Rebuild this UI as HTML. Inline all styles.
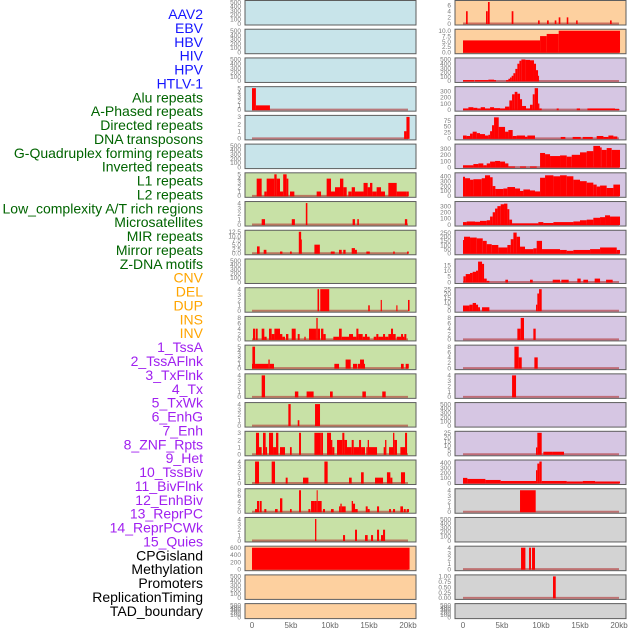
<!DOCTYPE html>
<html><head><meta charset="utf-8"><style>
body{margin:0;background:#fff;}
svg{display:block;font-family:"Liberation Sans",sans-serif;}
</style></head><body>
<svg id="chart" width="630" height="630" viewBox="0 0 630 630"></svg>
<script>
const labels=["AAV2","EBV","HBV","HIV","HPV","HTLV-1","Alu repeats","A-Phased repeats","Directed repeats","DNA transposons","G-Quadruplex forming repeats","Inverted repeats","L1 repeats","L2 repeats","Low_complexity A/T rich regions","Microsatellites","MIR repeats","Mirror repeats","Z-DNA motifs","CNV","DEL","DUP","INS","INV","1_TssA","2_TssAFlnk","3_TxFlnk","4_Tx","5_TxWk","6_EnhG","7_Enh","8_ZNF_Rpts","9_Het","10_TssBiv","11_BivFlnk","12_EnhBiv","13_ReprPC","14_ReprPCWk","15_Quies","CPGisland","Methylation","Promoters","ReplicationTiming","TAD_boundary"];
const labelColors=["#1515ff","#1515ff","#1515ff","#1515ff","#1515ff","#1515ff","#006400","#006400","#006400","#006400","#006400","#006400","#006400","#006400","#006400","#006400","#006400","#006400","#006400","#ffa500","#ffa500","#ffa500","#ffa500","#ffa500","#a020f0","#a020f0","#a020f0","#a020f0","#a020f0","#a020f0","#a020f0","#a020f0","#a020f0","#a020f0","#a020f0","#a020f0","#a020f0","#a020f0","#a020f0","#000","#000","#000","#000","#000"];
const bgL=["b","b","b","b","b","b","g","g","g","g","g","g","g","g","g","g","g","g","g","o","o","o"];
const bgR=["o","o","p","p","p","p","p","p","p","p","p","p","p","p","p","p","p","y","y","y","y","y"];
const T5=["0","100","200","300","400","500"];
const ticksL=[T5,T5,T5,["0","1","2","3","4","5"],["0","1","2","3"],T5,["0","1","2","3","4","5"],["0","1","2","3","4"],["0.0","2.5","5.0","7.5","10.0","12.5"],T5,["0","1","2","3","4"],["0","2","4","6","8"],["0","1","2","3","4","5"],["0","1","2","3","4"],["0","1","2","3","4"],["0","1","2","3"],["0","1","2","3","4"],["0","2","4","6","8"],["0","1","2","3","4"],["0","200","400","600"],T5,T5];
const maxL=[500,500,500,5,3,500,5,4,12.5,500,4,8,5,4,4,3,4,8,4,600,500,500];
const ticksR=[["0","2","4","6"],["0.0","2.5","5.0","7.5","10.0"],T5,["0","100","200","300"],["0","25","50","75"],["0","100","200","300"],["0","100","200","300","400"],["0","100","200","300"],["0","50","100","150","200","250"],["0","5","10","15"],["0","5","10","15","20","25"],["0","2","4","6","8"],["0","2","4","6","8"],["0","1","2","3","4"],T5,["0","5","10","15","20","25"],["0","100","200","300","400"],["0","1","2","3","4"],T5,["0","1","2","3","4"],["0.00","0.25","0.50","0.75","1.00"],T5];
const maxR=[7,10,500,350,90,350,440,350,260,19,25,8,8,4,500,25,420,4,500,4,1,500];
const seriesL=[
[],[],[],
[[0,0.5,5],[0.5,2.3,1]],
[[19.5,19.8,1],[19.8,20.2,3]],
[],
[[0.6,1.24,4],[1.58,1.88,1],[1.88,2.86,4],[2.86,3.16,5],[3.16,3.59,4],[3.59,4.0,1],[4.0,4.44,5],[4.44,4.66,4],[4.87,5.43,1],[8.29,8.85,1],[9.57,10.13,4],[10.13,10.64,1],[10.64,11.28,2],[11.28,11.71,4],[11.71,12.14,2],[12.35,12.78,1],[12.78,13.2,2],[13.2,14.3,1],[14.3,14.83,3],[14.83,15.13,2],[15.13,15.43,3],[15.43,15.98,1],[15.98,16.54,2],[16.54,17.05,1],[17.48,18.55,3],[18.55,19.83,1],[19.83,20.1,1]],
[[1.24,1.67,1],[5.1,5.5,1],[6.9,7.1,4],[12.9,13.2,1],[13.5,13.7,1],[19.6,19.9,1]],
[[0.64,0.98,4],[1.5,1.85,2],[3.59,3.9,1],[4.87,5.1,1],[6.0,6.3,12.5],[6.3,6.4,8],[8.0,8.7,5],[10.1,10.6,1],[11.15,11.5,2],[11.7,12.0,2],[12.78,13.2,3],[13.2,13.45,2],[14.66,15.1,1],[18.1,18.3,1],[19.88,20.1,1]],
[],
[[8.4,8.6,4],[8.75,9.9,4],[14.9,15.1,1],[16.5,16.65,2],[18.5,18.65,1],[20.0,20.2,2]],
[[0.13,0.39,4],[0.47,0.73,4],[1.24,1.58,4],[1.58,1.88,1],[2.18,2.52,4],[2.52,2.87,2],[2.87,3.59,4],[3.59,3.89,2],[3.89,4.23,1],[4.36,4.66,2],[5.09,5.6,4],[5.86,6.11,2],[6.71,6.88,1],[7.31,8.08,4],[8.08,8.25,4],[8.25,8.42,8],[8.42,8.72,4],[8.85,9.15,4],[9.15,9.45,2],[10.43,11.16,1],[11.16,11.5,4],[11.5,12.44,1],[12.44,12.95,2],[12.95,13.38,1],[13.38,13.64,4],[13.64,14.19,2],[14.19,14.49,1],[14.49,14.75,2],[14.75,15.09,1],[15.6,15.94,1],[15.94,16.2,2],[16.2,16.8,1],[16.8,17.06,2],[17.06,17.48,1],[17.48,17.82,2],[17.82,18.08,4],[18.08,18.42,2],[18.55,19.11,1],[19.11,19.36,2],[19.36,19.53,1],[19.53,19.79,2]],
[[0,0.05,1],[0.05,0.39,5],[0.39,2.1,1],[2.1,2.27,2],[2.27,2.82,1],[10.56,11.16,1],[12.0,12.65,2],[12.95,13.46,1],[13.55,13.85,1],[13.85,14.36,2],[14.36,14.49,1],[19.1,19.45,1],[19.7,20.1,1]],
[[1.24,1.67,4],[5.5,5.94,1],[7.0,7.9,1],[10.0,10.35,1],[14.15,14.6,1],[16.7,17.14,1]],
[[4.66,4.96,4],[5.86,6.07,1],[8.08,8.72,4]],
[[0.51,0.9,3],[0.9,1.24,1],[1.41,1.75,3],[1.75,1.93,1],[2.18,2.7,3],[2.7,3.08,1],[3.08,3.38,3],[3.59,4.23,1],[4.87,5.09,1],[6.03,6.28,3],[8.0,8.76,3],[8.76,8.93,3.5],[8.93,9.1,3],[9.62,10.13,3],[10.13,10.3,2],[10.3,10.56,1],[10.9,11.58,2],[11.58,11.84,3],[11.84,12.18,2],[12.18,12.78,1],[12.78,13.04,2],[13.04,13.72,1],[13.72,13.98,2],[13.98,14.49,1],[14.66,14.83,1],[14.83,15.0,2],[15.0,16.03,1],[16.88,17.06,1],[17.06,17.23,2],[17.57,18.08,1],[18.08,18.25,3],[18.25,18.59,2],[19.02,19.62,1],[19.62,19.88,3]],
[[0.39,0.9,4],[2.52,2.95,4],[4.32,4.57,1],[6.54,7.23,1],[9.28,9.7,4],[12.44,12.78,1],[13.98,14.32,2],[15.77,16.8,1],[17.3,17.74,2],[17.74,18.0,1],[19.1,19.62,2]],
[[0.39,0.64,1],[0.64,0.9,4],[0.98,1.24,4],[1.58,1.84,1],[2.95,3.29,1],[3.59,3.89,5],[4.87,5.09,1],[6.03,6.28,8],[7.23,7.48,1],[7.57,8.0,4],[8.0,8.29,4],[8.29,8.42,8],[8.42,8.93,4],[9.1,9.36,1],[10.13,10.47,1],[11.16,11.33,2],[11.33,11.5,3],[11.5,12.01,2],[12.78,12.95,4],[12.95,13.21,3],[13.21,13.55,1],[14.58,14.83,2],[14.83,15.09,1],[16.03,16.29,2],[17.57,17.82,1],[18.08,18.34,1],[19.02,19.36,2],[19.45,19.71,1],[19.83,20.13,1]],
[[8.08,8.25,4],[11.67,11.93,1],[13.21,13.46,2],[14.49,14.83,1],[15.26,15.52,1],[16.03,16.29,2],[16.54,16.8,1],[16.8,17.06,2]],
[[0,20.2,600]],
[],[]
];
const seriesR=[
[[0.39,0.6,4],[2.95,3.17,4],[3.2,3.42,7],[6.24,6.46,4],[9.62,9.83,1],[10.77,10.99,1],[11.76,11.97,1],[12.27,12.48,2],[13.3,13.5,2],[14.5,14.7,1],[18.85,19.06,1]],
[[0,9.88,5.5],[9.88,10.73,7.5],[10.73,12.27,8.5],[12.27,20.13,10]],
[[0,1.41,20],[1.5,3.25,20],[3.25,3.98,30],[3.98,4.23,20],[5.52,5.82,20],[5.82,6.03,50],[6.03,6.24,80],[6.24,6.46,120],[6.46,6.71,180],[6.71,6.97,280],[6.97,7.23,400],[7.23,7.48,470],[7.48,8.0,500],[8.0,8.59,490],[8.59,9.1,480],[9.1,9.36,400],[9.36,9.62,250],[9.62,9.75,120]],
[[0,0.69,20],[0.69,1.33,40],[1.33,1.84,30],[1.84,2.27,20],[2.27,2.82,40],[2.82,3.47,20],[3.47,3.98,40],[3.98,4.75,25],[4.75,5.39,20],[5.39,5.94,50],[5.94,6.29,150],[6.29,6.63,250],[6.63,6.97,290],[6.97,7.31,260],[7.31,7.57,170],[7.57,8.08,60],[8.08,8.59,20],[8.59,8.94,80],[8.94,9.19,250],[9.19,9.62,350],[9.62,9.79,100],[9.79,10.09,20],[12.01,12.27,20],[14.58,15.0,20],[15.95,19.49,20],[19.49,20.05,10]],
[[0,0.47,12],[0.47,0.9,10],[0.9,1.24,20],[1.24,1.76,28],[1.76,2.18,22],[2.18,2.82,18],[2.82,3.25,12],[3.25,3.47,15],[3.47,3.72,30],[3.72,3.98,55],[3.98,4.58,88],[4.58,5.39,48],[5.39,5.82,28],[5.82,6.37,35],[6.37,6.88,10],[6.88,7.95,12],[7.95,8.25,7],[8.25,9.23,12],[12.53,13.12,6],[14.06,15.09,6],[15.35,16.63,6],[17.14,18.0,10],[18.0,18.64,6],[18.64,19.28,12],[19.28,19.79,8]],
[[0,1.33,30],[1.33,1.97,50],[1.97,2.61,60],[2.61,3.04,30],[3.04,3.47,60],[3.47,4.11,90],[4.11,4.75,100],[4.75,5.39,90],[5.39,5.82,60],[5.82,6.67,10],[7.31,8.08,10],[8.59,9.45,10],[9.88,10.52,230],[10.52,11.16,210],[11.16,12.44,180],[12.44,13.3,190],[13.3,13.94,170],[13.94,15.0,200],[15.0,15.86,240],[15.86,16.71,260],[16.71,17.57,345],[17.57,17.78,320],[17.78,18.42,280],[18.42,19.06,310],[19.06,20.13,280]],
[[0,0.26,390],[0.26,0.9,360],[0.9,1.33,330],[1.33,2.4,340],[2.4,2.82,360],[2.82,3.47,420],[3.47,3.8,380],[3.8,4.15,200],[4.15,5.17,140],[5.17,5.69,150],[5.69,6.67,180],[6.67,7.31,150],[7.31,7.74,100],[7.74,8.59,130],[8.59,9.23,110],[9.23,9.88,90],[9.88,10.52,370],[10.52,11.59,420],[11.59,12.44,400],[12.44,13.3,420],[13.3,14.15,400],[14.15,15.0,330],[15.0,15.86,300],[15.86,16.71,270],[16.71,17.14,230],[17.14,17.57,190],[17.57,18.42,210],[18.42,19.28,160],[19.28,20.13,230]],
[[0,0.47,40],[0.47,1.54,50],[1.54,2.18,45],[2.18,3.04,60],[3.04,3.47,70],[3.47,3.81,130],[3.81,4.11,200],[4.11,4.41,260],[4.41,4.83,300],[4.83,5.26,330],[5.26,5.69,340],[5.69,5.94,250],[5.94,6.29,80],[6.29,9.66,20],[9.66,10.3,40],[10.3,11.59,25],[11.59,14.15,40],[14.15,15.0,50],[15.0,15.86,70],[15.86,16.71,80],[16.71,17.57,110],[17.57,18.21,120],[18.21,18.85,150],[18.85,20.13,130]],
[[0,0.13,160],[0.13,0.9,200],[0.9,1.76,190],[1.76,2.53,180],[2.53,3.04,150],[3.04,3.68,110],[3.68,4.53,100],[4.53,5.69,70],[5.69,6.12,100],[6.12,6.46,170],[6.46,6.88,250],[6.88,7.31,200],[7.31,7.95,80],[7.95,9.02,50],[9.02,9.45,60],[9.45,10.13,150],[10.13,12.44,50],[12.44,13.3,40],[13.3,14.15,30],[14.15,16.29,40],[16.29,17.57,50],[17.57,19.71,70],[19.71,20.13,40]],
[[0.05,0.35,5],[0.35,0.9,7],[0.9,1.24,8],[1.24,1.67,9],[1.67,1.93,10],[1.93,2.44,18],[2.44,2.7,16],[2.7,3.04,3],[3.04,3.38,1],[5.43,5.77,2],[8.59,8.94,2],[11.5,12.44,2],[12.61,13.55,2],[14.66,15.09,3],[15.43,16.03,2],[16.88,17.57,3],[18.34,19.19,2]],
[[0,0.82,6],[0.82,1.24,7],[1.24,1.67,9],[1.67,1.93,7],[1.93,2.18,4],[2.44,3.38,4],[9.36,9.53,7],[9.53,9.75,20],[9.75,10.09,25]],
[[6.97,7.4,4],[7.4,7.82,8],[9.02,9.32,4]],
[[6.59,7.14,8],[7.14,7.53,4],[9.15,9.58,4]],
[[6.29,6.8,4]],
[],
[[9.36,9.53,8],[9.53,10.09,25],[10.3,11.42,3],[11.42,12.95,3]],
[[0,0.56,100],[0.56,2.87,80],[2.87,4.83,60],[4.83,9.36,40],[9.36,9.53,250],[9.53,9.79,380],[9.79,10.09,420],[10.09,13.3,40],[13.3,15.35,30],[15.35,16.93,40],[16.93,20.13,30]],
[[7.31,9.32,4]],
[],
[[7.44,8.0,4],[8.47,8.72,4],[8.85,9.23,4]],
[[11.54,11.89,1]],
[]
];
const xTicks=[0,5,10,15,20];
const xTickLabels=["0","5kb","10kb","15kb","20kb"];
const BG={b:"#c8e4ea",g:"#c8e1a6",o:"#fdd09f",p:"#d6c6e3",y:"#d3d3d3"};
const NS="http://www.w3.org/2000/svg";
const svg=document.getElementById('chart');
function mk(tag,attrs,parent){const e=document.createElementNS(NS,tag);for(const k in attrs)e.setAttribute(k,attrs[k]);(parent||svg).appendChild(e);return e;}
const ROW=28.72;
function panelTop(r){return r*ROW+0.5;}
function panelH(r){return r===21?15:24.5;}
function xScale(col,kb){return (col===0?252:463)+kb*7.8;}
function yScale(r,v,max){const t=panelTop(r),h=panelH(r);return t+h-1.5-(v/max)*(h-3);}
// labels
labels.forEach((s,i)=>{
  const t=mk('text',{x:203,y:14+i*13.88+5,'text-anchor':'end','font-size':14,fill:labelColors[i]});
  
  
  t.textContent=s;
});
function drawCol(col,bgs,series,ticks,maxs){
  const x0=col===0?245:455,w=171;
  for(let r=0;r<22;r++){
    const g=mk('g',{});
    
    
    const top=panelTop(r),h=panelH(r),max=maxs[r];
    mk('rect',{x:x0,y:top,width:w,height:h,fill:BG[bgs[r]]},g);
    const segs=series[r];
    if(segs.length){
      const bl=mk('line',{x1:xScale(col,0),x2:xScale(col,20),y1:yScale(r,0,max),y2:yScale(r,0,max),stroke:'#b03030','stroke-width':2,'stroke-opacity':0.6},g);
      
      
    }
    segs.forEach(s=>{
      const xa=xScale(col,s[0]),xb=xScale(col,s[1]);
      const ya=yScale(r,Math.min(s[2],max),max),yb=yScale(r,0,max);
      const b=mk('rect',{x:xa,y:ya,width:Math.max(xb-xa,0.8),height:yb-ya+0.5,fill:'#ff0000'},g);
      
      
    });
    mk('rect',{x:x0,y:top,width:w,height:h,fill:'none',stroke:'#5e5e5e','stroke-width':1},g);
    const tk=ticks[r];
    tk.forEach(lbl=>{
      const v=parseFloat(lbl);
      const t=mk('text',{x:x0-4,y:yScale(r,v,max)+2.3,'text-anchor':'end','font-size':6.5,fill:'#7a7a7a'},g);
      
      
      t.textContent=lbl;
    });
  }
  xTicks.forEach((v,i)=>{
    const t=mk('text',{x:xScale(col,v),y:628,'text-anchor':'middle','font-size':8,fill:'#666'});
    
    
    t.textContent=xTickLabels[i];
  });
}
drawCol(0,bgL,seriesL,ticksL,maxL);
drawCol(1,bgR,seriesR,ticksR,maxR);
</script>
</body></html>
